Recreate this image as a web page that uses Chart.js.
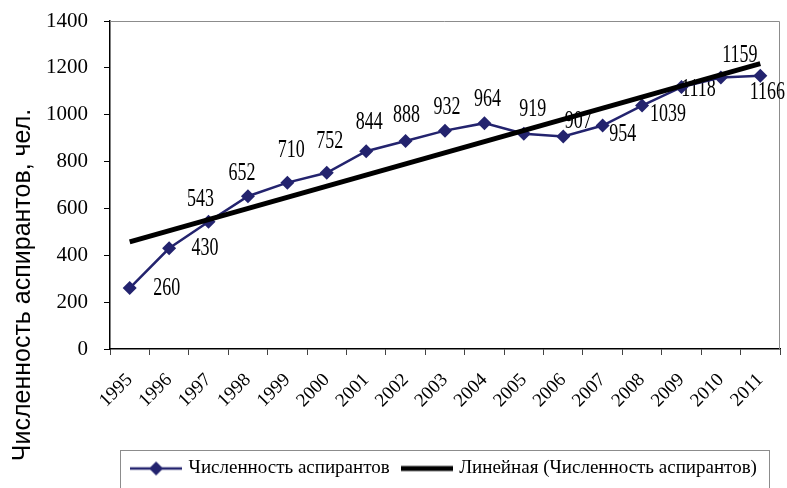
<!DOCTYPE html>
<html>
<head>
<meta charset="utf-8">
<script src="https://cdn.jsdelivr.net/npm/chart.js@4.4.0/dist/chart.umd.min.js"></script>
<style>
  html, body { margin: 0; padding: 0; background: #fff; }
</style>
</head>
<body>
<canvas id="myChart" width="787" height="488"></canvas>
<script>
// данные
const years = ['1995', '1996', '1997', '1998', '1999', '2000', '2001', '2002', '2003',
  '2004', '2005', '2006', '2007', '2008', '2009', '2010', '2011'];
const aspiranty = [260, 430, 543, 652, 710, 752, 844, 888, 932, 964, 919, 907, 954, 1039, 1118, 1159, 1166];
// линейный тренд, концы
const trendYears = ['1995', '2011'];
const trendValues = [457, 1218];
const yTicks = [0, 200, 400, 600, 800, 1000, 1200, 1400];

// сдвиг подписи относительно точки (dx, dy)
const labelShift = [[37, 0], [36, 0], [-8, -22], [-6, -23], [4, -32], [3, -31], [3, -29], [1, -26],
  [2, -23], [3, -24], [9, -24], [15, -15], [20, 9], [26, 9], [17, 2], [19, -22], [7, 17]];

const navy = '#23236e';

function makeIcon(color, width, marker) {
  const c = document.createElement('canvas');
  c.width = 52; c.height = 16;
  const g = c.getContext('2d');
  g.strokeStyle = color;
  g.lineWidth = width;
  g.beginPath(); g.moveTo(0, 8); g.lineTo(52, 8); g.stroke();
  if (marker) {
    g.fillStyle = color;
    g.beginPath(); g.moveTo(26, 1); g.lineTo(33, 8); g.lineTo(26, 15); g.lineTo(19, 8); g.closePath(); g.fill();
  }
  return c;
}
const legendIcons = [makeIcon(navy, 2.5, true), makeIcon('#000', 5, false)];

// серая рамка сверху и справа
const plotFrame = {
  id: 'plotFrame',
  beforeDatasetsDraw(chart) {
    const {ctx, chartArea: a} = chart;
    ctx.save();
    ctx.strokeStyle = '#8c8c8c';
    ctx.lineWidth = 1;
    ctx.beginPath();
    ctx.moveTo(a.left, a.top + 0.5);
    ctx.lineTo(a.right - 0.5, a.top + 0.5);
    ctx.lineTo(a.right - 0.5, a.bottom);
    ctx.stroke();
    ctx.restore();
  }
};

// подписи значений
const valueLabels = {
  id: 'valueLabels',
  beforeDatasetsDraw(chart) {
    const meta = chart.getDatasetMeta(0);
    const ctx = chart.ctx;
    ctx.save();
    ctx.font = '25px "Liberation Serif"';
    ctx.fillStyle = '#000';
    ctx.textAlign = 'center';
    ctx.textBaseline = 'middle';
    meta.data.forEach((pt, i) => {
      const [dx, dy] = labelShift[i];
      ctx.save();
      ctx.translate(pt.x + dx, pt.y + dy);
      ctx.scale(0.72, 1);
      ctx.fillText(String(aspiranty[i]), 0, 0);
      ctx.restore();
    });
    ctx.restore();
  }
};

// подпись оси Y и рамка легенды
const extras = {
  id: 'extras',
  afterDraw(chart) {
    const ctx = chart.ctx;
    ctx.save();
    ctx.font = '25px "Liberation Sans"';
    ctx.fillStyle = '#000';
    ctx.textAlign = 'center';
    ctx.textBaseline = 'alphabetic';
    ctx.translate(30, 285);
    ctx.rotate(-Math.PI / 2);
    ctx.fillText('Численность аспирантов, чел.', 0, 0);
    ctx.restore();

    const lg = chart.legend;
    ctx.save();
    ctx.strokeStyle = '#8c8c8c';
    ctx.lineWidth = 1;
    ctx.strokeRect(lg.left + 10.5, lg.top + 5.5, lg.width - 21, 60);
    ctx.restore();
  }
};

const ctx = document.getElementById('myChart');
new Chart(ctx, {
  type: 'line',
  data: {
    labels: years,
    datasets: [{
      label: 'Численность аспирантов',
      data: aspiranty,
      borderColor: navy,
      backgroundColor: navy,
      borderWidth: 2.5,
      pointStyle: 'rectRot',
      pointRadius: 7,
      pointBorderWidth: 0,
      pointBackgroundColor: navy,
      tension: 0,
      order: 1
    }, {
      label: 'Линейная (Численность аспирантов)',
      data: trendYears.map((y, i) => ({x: y, y: trendValues[i]})),
      borderColor: '#000',
      borderWidth: 5,
      pointRadius: 0,
      tension: 0,
      order: 0
    }]
  },
  options: {
    responsive: false,
    animation: false,
    layout: { padding: { top: 21, right: 4, left: 0, bottom: 0 } },
    plugins: {
      tooltip: { enabled: false },
      legend: {
        position: 'bottom',
        fullSize: false,
        labels: {
          usePointStyle: true,
          pointStyleWidth: 46,
          padding: 14,
          color: '#000',
          font: { family: 'Liberation Serif', size: 19 },
          generateLabels: chart => chart.data.datasets.map((ds, i) => ({
            text: ds.label,
            pointStyle: legendIcons[i],
            datasetIndex: i,
            fillStyle: 'transparent',
            strokeStyle: 'transparent',
            lineWidth: 0,
            hidden: false
          }))
        }
      }
    },
    scales: {
      x: {
        offset: true,
        grid: { offset: true, drawOnChartArea: false, tickLength: 6, color: '#444' },
        border: { color: '#000', width: 1.5 },
        ticks: {
          minRotation: 45, maxRotation: 45, padding: 14, color: '#000',
          font: { family: 'Liberation Serif', size: 19 }
        },
        afterFit: s => { s.height = 96; s.paddingLeft = 0; s.paddingRight = 0; }
      },
      y: {
        min: 0, max: 1400,
        afterBuildTicks: s => { s.ticks = yTicks.map(v => ({value: v})); },
        grid: { drawOnChartArea: false, tickLength: 6, color: '#000' },
        border: { color: '#000', width: 1.5 },
        ticks: {
          padding: 16, color: '#000', font: { family: 'Liberation Serif', size: 21 },
          callback: v => String(v)
        },
        afterFit: s => { s.width = 110; s.paddingTop = 0; s.paddingBottom = 0; }
      }
    }
  },
  plugins: [plotFrame, valueLabels, extras]
});
</script>
</body>
</html>
